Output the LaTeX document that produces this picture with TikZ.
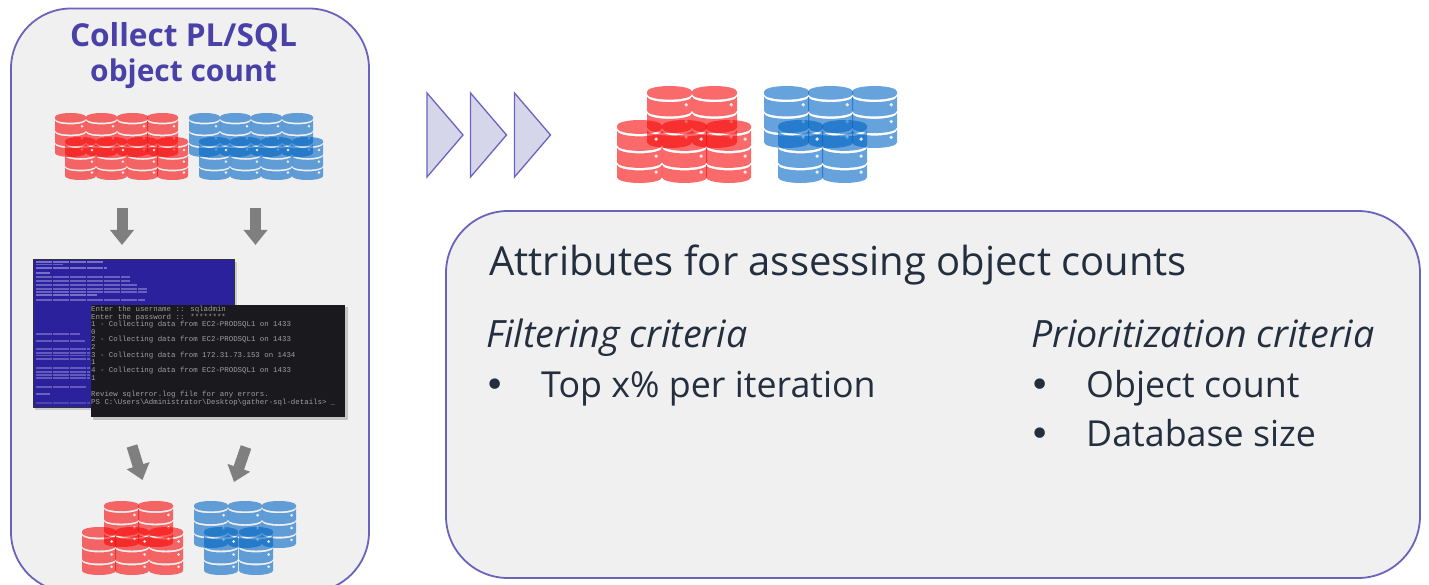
\documentclass[tikz,border=0pt]{standalone}
\usepackage{fontspec}
\usetikzlibrary{arrows.meta}
\setmainfont{Open Sans}
\newfontfamily\termfont{Liberation Mono}
\newfontfamily\bulletfont{DejaVu Sans}
\definecolor{frame}{HTML}{6A63BC}
\definecolor{panel}{HTML}{F0F0F0}
\definecolor{titleink}{HTML}{4A41A8}
\definecolor{bodyink}{HTML}{232F3E}
\definecolor{dbred}{HTML}{F80808}
\definecolor{dbblue}{HTML}{0064C4}
\definecolor{chev}{HTML}{D6D6EA}
\definecolor{chevline}{HTML}{6C64BC}
\definecolor{arrowgrey}{HTML}{7F7F7F}
\definecolor{termblue}{HTML}{2C219C}
\definecolor{termblack}{HTML}{19191E}
\definecolor{termtext}{HTML}{A0A0A0}
\definecolor{termrow}{HTML}{B4B4EA}
\tikzset{
  x=1pt,y=-1pt,
  panelbox/.style={draw=frame,line width=1.8pt,fill=panel},
  chevron/.style={draw=chevline,line width=1.3pt,fill=chev,line join=miter},
  bigarrow/.style={draw=arrowgrey,line width=11pt,-{Triangle[length=15pt,width=23pt]}},
  bodytext/.style={anchor=base west,inner sep=0pt,text=bodyink,font=\fontsize{40}{44}\selectfont},
  subtext/.style={anchor=base west,inner sep=0pt,text=bodyink,font=\fontsize{35.8}{40}\selectfont},
  subitalic/.style={subtext,font=\fontsize{37.6}{40}\selectfont\itshape},
  bullettext/.style={anchor=base west,inner sep=0pt,text=bodyink,font=\bulletfont\fontsize{36}{40}\selectfont},
  termline/.style={anchor=base west,inner sep=0pt,text=termtext,font=\termfont\fontsize{7.4}{8}\selectfont},
  titletext/.style={anchor=base,inner sep=0pt,text=titleink,font=\fontsize{31.6}{34}\selectfont\bfseries},
  titletextb/.style={titletext,font=\fontsize{29.9}{34}\selectfont\bfseries},
}
% x y w h colour : one stacked-disc database icon
\newcommand{\dbstack}[5]{%
  \pgfmathsetmacro{\rx}{#3/2}%
  \pgfmathsetmacro{\ry}{0.09*#4}%
  \pgfmathsetmacro{\gp}{0.04*#4}%
  \pgfmathsetmacro{\cB}{#2+0.24*#4-\gp/2-\ry}%
  \pgfmathsetmacro{\aT}{#2+0.24*#4+\gp/2-\ry}%
  \pgfmathsetmacro{\aB}{#2+0.51*#4-\gp/2-\ry}%
  \pgfmathsetmacro{\bT}{#2+0.51*#4+\gp/2-\ry}%
  \pgfmathsetmacro{\bB}{#2+0.78*#4-\gp/2-\ry}%
  \pgfmathsetmacro{\dT}{#2+0.78*#4+\gp/2-\ry}%
  \pgfmathsetmacro{\dB}{#2+#4-\ry}%
  \pgfmathsetmacro{\xR}{#1+#3}%
  \pgfmathsetmacro{\xD}{#1+0.87*#3}%
  \pgfmathsetmacro{\rD}{0.035*#3+0.3}%
  \fill[#5,fill opacity=.6]
    (#1,#2+\ry) arc[start angle=180,end angle=360,x radius=\rx,y radius=\ry]
    -- (\xR,\cB) arc[start angle=0,end angle=180,x radius=\rx,y radius=\ry] -- cycle;
  \foreach \tp/\bt in {\aT/\aB,\bT/\bB,\dT/\dB}{
    \fill[#5,fill opacity=.6]
      (#1,\tp) arc[start angle=180,end angle=0,x radius=\rx,y radius=\ry]
      -- (\xR,\bt) arc[start angle=0,end angle=180,x radius=\rx,y radius=\ry] -- cycle;
    \fill[white,fill opacity=.85] (\xD,{(\tp+\bt)/2+\ry*0.2}) circle[radius=\rD];
  }%
}
\begin{document}
\begin{tikzpicture}
\clip (0,0) rectangle (1429,585);
\fill[white] (0,0) rectangle (1429,585);

% panels
\draw[panelbox,rounded corners=60pt] (11,8.5) rectangle (369,592);
\draw[panelbox,rounded corners=62pt] (446,211) rectangle (1420,578);

% left title
\node[titletext] (t1) at (183.5,47) {Collect PL/SQL};
\node[titletextb] (t2) at (183.5,82) {object count};

% small icons, top
\foreach \xx in {55,86,117,147}{\dbstack{\xx}{113}{31}{44}{dbred}}
\foreach \xx in {65,96,127,157}{\dbstack{\xx}{137}{31}{43}{dbred}}
\foreach \xx in {189,220,251,282}{\dbstack{\xx}{113}{31}{44}{dbblue}}
\foreach \xx in {199,230,261,292}{\dbstack{\xx}{137}{31}{43}{dbblue}}

% arrows
\coordinate (a1s) at (122,208); \coordinate (a1e) at (122,245);
\coordinate (a2s) at (255.5,208); \coordinate (a2e) at (255.5,245);
\coordinate (a3s) at (132,446); \coordinate (a3e) at (142.5,480);
\coordinate (a4s) at (246,447); \coordinate (a4e) at (234,482);
\draw[bigarrow] (a1s) -- (a1e);
\draw[bigarrow] (a2s) -- (a2e);
\draw[bigarrow] (a3s) -- (a3e);
\draw[bigarrow] (a4s) -- (a4e);

% blue terminal
\fill[black,opacity=.15] (35,262) rectangle (237,410);
\draw[line width=1pt,draw=black!80,fill=termblue] (33,260) rectangle (234,407);
\foreach \yy/\xe/\op in {262/103/.55,264.5/63/.45,268/107/.55,273/50/.55,277/130/.45,281/130/.45,285/137/.45,289/147/.45,292/147/.45,295/97/.55,300/145/.45,334/80/.4,341/85/.4,349/90/.4,353/90/.4,355.5/90/.4,359/90/.4,368/90/.4,372/90/.4,375/90/.4,378/90/.4,387/87/.4,394/50/.45,403/90/.25}{
  \draw[termrow,line width=1.1pt,opacity=\op,dash pattern=on 16pt off 1pt] (36,\yy) -- (\xe,\yy);
}
% black terminal
\fill[black,opacity=.18] (93,307) rectangle (348,420);
\fill[termblack] (91,305) rectangle (345,417);
\begin{scope}
\clip (91,305) rectangle (345,417);
\node[termline] (l0) at (91,312) {Enter the username :: sqladmin};
\node[termline] (l1) at (91,319) {Enter the password :: ********};
\node[termline] (l2) at (91,326) {1 - Collecting data from EC2-PRODSQL1 on 1433};
\node[termline] (l3) at (91,334) {0};
\node[termline] (l4) at (91,341) {2 - Collecting data from EC2-PRODSQL1 on 1433};
\node[termline] (l5) at (91,349) {2};
\node[termline] (l6) at (91,357) {3 - Collecting data from 172.31.73.153 on 1434};
\node[termline] (l7) at (91,364) {1};
\node[termline] (l8) at (91,372) {4 - Collecting data from EC2-PRODSQL1 on 1433};
\node[termline] (l9) at (91,380) {1};
\node[termline] (l10) at (91,396) {Review sqlerror.log file for any errors.};
\node[termline] (l11) at (91,404) {PS C:\textbackslash Users\textbackslash Administrator\textbackslash Desktop\textbackslash gather-sql-details> \_};
\end{scope}

% small icons, bottom
\foreach \xx in {104,138}{\dbstack{\xx}{501}{35}{46}{dbred}}
\foreach \xx in {82,115,149}{\dbstack{\xx}{527}{34}{48}{dbred}}
\foreach \xx in {194,228,262}{\dbstack{\xx}{501}{34}{47}{dbblue}}
\foreach \xx in {204,239}{\dbstack{\xx}{527}{34}{48}{dbblue}}

% chevrons
\draw[chevron] (427,93) -- (463,135) -- (427,177) -- cycle;
\draw[chevron] (470.5,93) -- (506.5,135) -- (470.5,177) -- cycle;
\draw[chevron] (514.5,93) -- (550.5,135) -- (514.5,177) -- cycle;

% large icons
\foreach \xx in {647,692}{\dbstack{\xx}{86}{45}{62}{dbred}}
\foreach \xx in {617,662,706}{\dbstack{\xx}{120}{45}{63}{dbred}}
\foreach \xx in {764,808,852}{\dbstack{\xx}{86}{45}{62}{dbblue}}
\foreach \xx in {778,822}{\dbstack{\xx}{120}{45}{63}{dbblue}}

% right panel text
\node[bodytext] (h) at (489,276) {Attributes for assessing object counts};
\node[subitalic] (f) at (486,347.5) {Filtering criteria};
\node[bullettext] (fb) at (484,397) {•};
\node[subtext] (f1) at (541,397) {Top x\% per iteration};
\node[subitalic] (p) at (1031,347.5) {Prioritization criteria};
\node[bullettext] (pb1) at (1029,397) {•};
\node[subtext] (p1) at (1086,397) {Object count};
\node[bullettext] (pb2) at (1029,446) {•};
\node[subtext] (p2) at (1086,446) {Database size};
\end{tikzpicture}
\end{document}
